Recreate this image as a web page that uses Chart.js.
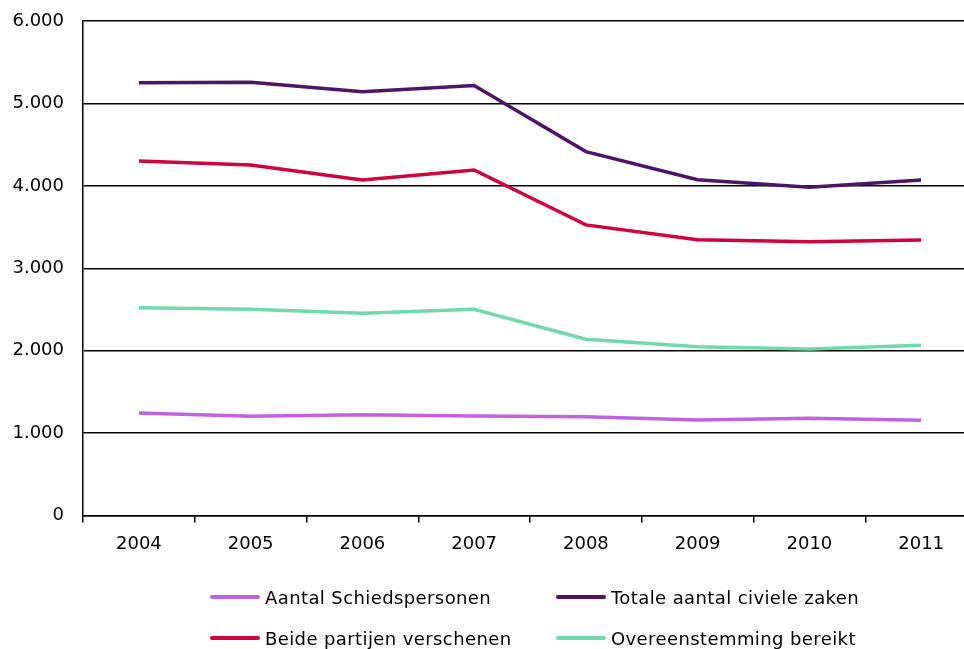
<!DOCTYPE html>
<html lang="nl">
<head>
<meta charset="utf-8">
<title>Schiedspersonen en civiele zaken 2004-2011</title>
<script src="https://cdn.jsdelivr.net/npm/chart.js@4/dist/chart.umd.min.js"></script>
<style>
  html, body { margin: 0; padding: 0; background: #fff; overflow: hidden; width: 964px; height: 649px; }
  #wrap { position: absolute; left: 0; top: 0; width: 990px; height: 570px; }
  #legend { position: absolute; left: 0; top: 0; width: 964px; height: 649px; pointer-events: none;
            font-family: "DejaVu Sans", Verdana, sans-serif; font-size: 18px; letter-spacing: 0.4px; color: #000; }
  .item { position: absolute; display: flex; align-items: center; white-space: nowrap; }
  .swatch { width: 50px; height: 4px; border-radius: 2px; margin-right: 5px; }
</style>
</head>
<body>
<div id="wrap"><canvas id="chart" width="990" height="570"></canvas></div>
<div id="legend"></div>
<script>
// Jaren (categorieën)
const years = ['2004', '2005', '2006', '2007', '2008', '2009', '2010', '2011'];

// Reeksen
const schiedspersonen = [1244, 1204, 1223, 1208, 1199, 1159, 1180, 1155];
const totaleCivieleZaken = [5252, 5257, 5143, 5216, 4415, 4075, 3983, 4072];
const beidePartijen = [4302, 4254, 4072, 4193, 3526, 3347, 3323, 3343];
const overeenstemming = [2522, 2502, 2454, 2502, 2138, 2049, 2021, 2066];

// Labels en kleuren per reeks
const seriesNames = ['Aantal Schiedspersonen', 'Totale aantal civiele zaken', 'Beide partijen verschenen', 'Overeenstemming bereikt'];
const seriesColors = ['#C063DE', '#4D1566', '#D0023F', '#70D9AD'];

// Y-as
const yMin = 0, yMax = 6000, yStep = 1000;

const values = [schiedspersonen, totaleCivieleZaken, beidePartijen, overeenstemming];
const datasets = values.map((v, i) => ({
  label: seriesNames[i],
  data: v,
  borderColor: seriesColors[i],
  backgroundColor: seriesColors[i],
  borderWidth: 3.5,
  pointRadius: 0,
  tension: 0,
  fill: false
}));

const fmt = n => n === 0 ? '0' : n.toLocaleString('nl-NL');
const tickFont = { family: '"DejaVu Sans", Verdana, sans-serif', size: 18 };

new Chart(document.getElementById('chart'), {
  type: 'line',
  data: { labels: years, datasets },
  options: {
    responsive: false,
    animation: false,
    layout: { padding: { top: 21, right: 13, left: 0, bottom: 0 } },
    plugins: { legend: { display: false }, tooltip: { enabled: false } },
    scales: {
      x: {
        offset: true,
        grid: { offset: true, drawOnChartArea: false, drawTicks: true, tickLength: 7, color: '#000', lineWidth: 1.5 },
        border: { display: true, color: '#000', width: 1.5 },
        ticks: { color: '#000', font: tickFont, padding: 11, maxRotation: 0 },
        afterFit: s => { s.height = 54.5; s.paddingLeft = 0; s.paddingRight = 0; }
      },
      y: {
        min: yMin, max: yMax,
        grid: { color: '#000', lineWidth: 1.5, drawTicks: false },
        border: { display: true, color: '#000', width: 1.5 },
        ticks: {
          stepSize: yStep,
          color: '#000',
          padding: 19,
          font: tickFont,
          callback: v => fmt(v)
        },
        afterFit: s => { s.width = 83; s.paddingTop = 0; s.paddingBottom = 0; }
      }
    }
  }
});

// Legenda in twee kolommen onder de grafiek
const legend = document.getElementById('legend');
const pos = [[210, 597], [556, 597], [210, 638], [556, 638]];
seriesNames.forEach((name, i) => {
  const el = document.createElement('div');
  el.className = 'item';
  el.style.left = pos[i][0] + 'px';
  el.style.top = (pos[i][1] - 11) + 'px';
  el.style.height = '22px';
  const sw = document.createElement('span');
  sw.className = 'swatch';
  sw.style.background = seriesColors[i];
  const tx = document.createElement('span');
  tx.textContent = name;
  el.appendChild(sw);
  el.appendChild(tx);
  legend.appendChild(el);
});
</script>
</body>
</html>
